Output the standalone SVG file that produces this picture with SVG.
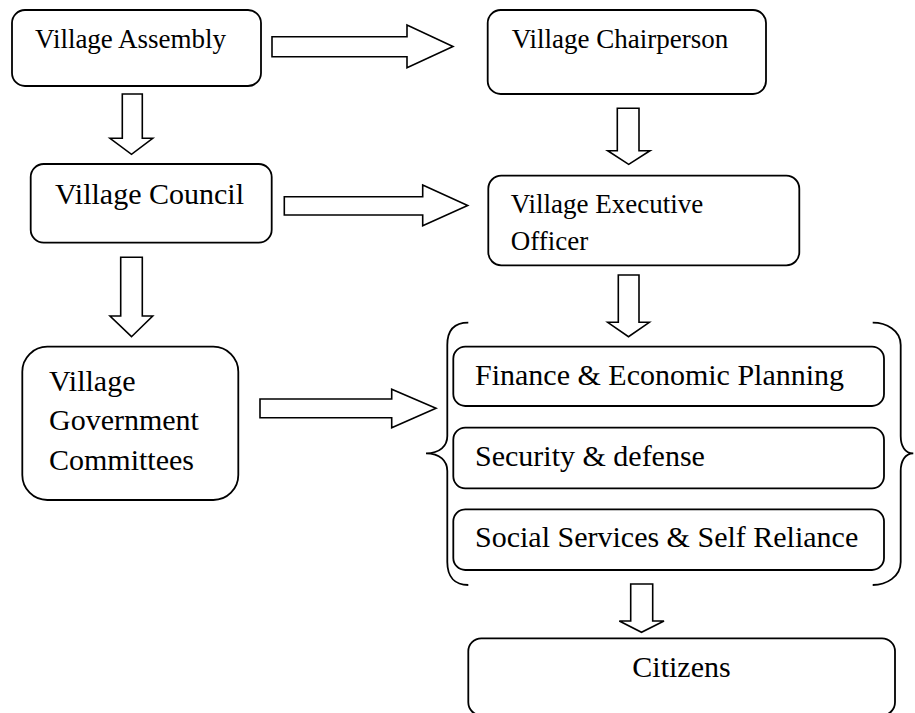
<svg xmlns="http://www.w3.org/2000/svg" width="915" height="713" viewBox="0 0 915 713">
  <style>
    .box { fill: #fff; stroke: #000; stroke-width: 1.8; }
    .arrow { fill: #fff; stroke: #000; stroke-width: 1.6; stroke-linejoin: miter; }
    .brace { fill: none; stroke: #000; stroke-width: 1.8; }
    text { font-family: "Liberation Serif", "Times New Roman", serif; fill: #000; }
    .s27 { font-size: 27px; }
    .s30 { font-size: 30px; }
  </style>
  <rect width="915" height="713" fill="#fff"/>

  <!-- block arrows between levels -->
  <g id="connectors">
    <!-- Assembly to Chairperson -->
    <path class="arrow" d="M272,36.7 H407 V25 L453,46.5 L407,67.7 V56.7 H272 Z"/>
    <!-- Assembly to Council -->
    <path class="arrow" d="M122.3,94 H142.3 V138.3 H152.7 L131.5,154.3 L110,138.3 H122.3 Z"/>
    <!-- Chairperson to Executive Officer -->
    <path class="arrow" d="M617.3,108.3 H639 V150.7 H650 L628.7,164.3 L607.7,150.7 H617.3 Z"/>
    <!-- Council to Executive Officer -->
    <path class="arrow" d="M284.3,196.7 H422.7 V185 L467.7,205.5 L422.7,225.7 V215 H284.3 Z"/>
    <!-- Executive Officer to committees -->
    <path class="arrow" d="M618.3,275 H639 V322.3 H649.3 L628.5,336.7 L607.7,322.3 H618.3 Z"/>
    <!-- Council to Government Committees -->
    <path class="arrow" d="M120.7,257.3 H142.3 V316 H152.7 L131.5,336.7 L110,316 H120.7 Z"/>
    <!-- Government Committees to committee group -->
    <path class="arrow" d="M260,399 H391.7 V389.3 L436,408.3 L391.7,427.7 V417.7 H260 Z"/>
    <!-- committee group to Citizens -->
    <path class="arrow" d="M630.7,584 H652.7 V621 H664 L641.5,632.3 L619.3,621 H630.7 Z"/>
  </g>

  <g id="village-assembly">
    <rect class="box" x="12" y="10" width="249" height="76" rx="13"/>
    <text class="s27" x="35" y="48">Village Assembly</text>
  </g>

  <g id="village-chairperson">
    <rect class="box" x="487.7" y="10" width="278.3" height="84" rx="13"/>
    <text class="s27" x="511.7" y="48.3">Village Chairperson</text>
  </g>

  <g id="village-council">
    <rect class="box" x="30.7" y="164" width="241" height="78.7" rx="13"/>
    <text class="s30" x="55" y="204.3">Village Council</text>
  </g>

  <g id="village-executive-officer">
    <rect class="box" x="488.3" y="175.7" width="311" height="89.6" rx="13"/>
    <text class="s27" x="510.7" y="213.3">Village Executive</text>
    <text class="s27" x="510.7" y="250">Officer</text>
  </g>

  <g id="village-government-committees">
    <rect class="box" x="22.3" y="346.7" width="216" height="153.3" rx="25"/>
    <text class="s30" x="49" y="390.7">Village</text>
    <text class="s30" x="49" y="430">Government</text>
    <text class="s30" x="49" y="470">Committees</text>
  </g>

  <g id="committee-group">
    <path class="brace" d="M468.3,322.7 C455,322.7 447.3,330 447.3,345 V436 C447.3,446 440,453.3 426,453.3 C440,453.3 447.3,461 447.3,471 V562 C447.3,577 455,585 468.3,585"/>
    <path class="brace" d="M872.7,322.7 C886,322.7 900.7,330 900.7,345 V436 C900.7,446 905,453.3 913.3,453.3 C905,453.3 900.7,461 900.7,471 V562 C900.7,577 886,585 872.7,585"/>
  </g>

  <g id="finance-economic-planning">
    <rect class="box" x="453.3" y="346.7" width="430.7" height="59.3" rx="12"/>
    <text class="s30" x="475" y="385">Finance &amp; Economic Planning</text>
  </g>

  <g id="security-defense">
    <rect class="box" x="453.3" y="427.7" width="430.7" height="60.6" rx="12"/>
    <text class="s30" x="475" y="465.7">Security &amp; defense</text>
  </g>

  <g id="social-services">
    <rect class="box" x="453.3" y="509.3" width="430.7" height="60.7" rx="12"/>
    <text class="s30" x="475" y="546.7">Social Services &amp; Self Reliance</text>
  </g>

  <g id="citizens">
    <rect class="box" x="468.3" y="638.3" width="426.7" height="77" rx="13"/>
    <text class="s30" x="632.3" y="676.7">Citizens</text>
  </g>
</svg>
